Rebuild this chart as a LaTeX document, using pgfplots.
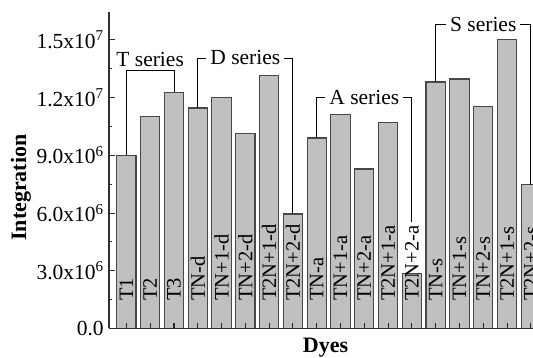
\documentclass[border=0pt]{standalone}
\usepackage{fontspec}
\setmainfont{Liberation Serif}
\usepackage{pgfplots}
\usepackage{pgfplotstable}
\pgfplotsset{compat=1.18}
\definecolor{barfill}{HTML}{C0C0C0}
\definecolor{baredge}{HTML}{484848}
\definecolor{axcol}{HTML}{303030}
\pgfplotstableread{
x y ly lab
0 9.00e6 1.43e6 T1
1 11.02e6 1.43e6 T2
2 12.27e6 1.43e6 T3
3 11.46e6 1.43e6 TN-d
4 12.01e6 1.43e6 TN+1-d
5 10.14e6 1.43e6 TN+2-d
6 13.15e6 1.43e6 T2N+1-d
7 5.95e6 1.43e6 T2N+2-d
8 9.90e6 1.43e6 TN-a
9 11.11e6 1.43e6 TN+1-a
10 8.29e6 1.43e6 TN+2-a
11 10.71e6 1.43e6 T2N+1-a
12 2.86e6 1.43e6 T2N+2-a
13 12.81e6 1.43e6 TN-s
14 12.97e6 1.43e6 TN+1-s
15 11.54e6 1.43e6 TN+2-s
16 15.01e6 1.43e6 T2N+1-s
17 7.47e6 1.43e6 T2N+2-s
}\data
\newcommand{\tfont}{\fontsize{21.5}{24}\selectfont}
\newcommand{\bfont}{\fontsize{20.5}{23}\selectfont}
\begin{document}
\begin{tikzpicture}
\begin{axis}[
  set layers=axis on top,
  scale only axis,
  width=424pt, height=316.5pt,
  xmin=-0.73, xmax=17.09,
  ymin=0, ymax=1.645e7,
  axis x line*=bottom,
  axis y line*=left,
  axis line style={draw=axcol, line width=1.3pt},
  tick align=inside,
  major tick length=5.5pt,
  minor tick length=3pt,
  tick style={draw=axcol, line width=1pt},
  xtick={0,1,2,3,4,5,6,7,8,9,10,11,12,13,14,15,16,17},
  xticklabel=\empty,
  x tick style={draw=black!85, line width=1.1pt},
  ytick={0,3e6,6e6,9e6,1.2e7,1.5e7},
  minor y tick num=1,
  scaled y ticks=false,
  yticklabels={0.0,3.0x10\textsuperscript{6},6.0x10\textsuperscript{6},9.0x10\textsuperscript{6},1.2x10\textsuperscript{7},1.5x10\textsuperscript{7}},
  yticklabel style={font=\tfont, xshift=-1.8pt},
  ylabel={\textbf{Integration}},
  xlabel={\textbf{Dyes}},
  ylabel style={font=\fontsize{22}{24}\selectfont, at={(axis description cs:-0.2075,0.4455)}, anchor=center, rotate=0},
  xlabel style={font=\fontsize{22}{24}\selectfont, at={(axis description cs:0.5106,0)}, anchor=base, yshift=-24.5pt},
]
\addplot[ybar, bar width=0.81, fill=barfill, draw=baredge, line width=1.1pt] table[x=x, y=y] {\data};
\addplot[draw=none, mark=none, nodes near coords, point meta=explicit symbolic,
  nodes near coords style={rotate=90, anchor=west, inner sep=0pt, font=\bfont, text=black}]
  table[x=x, y=ly, meta=lab] {\data};
% T series
\draw[black, line width=0.9pt] (axis cs:0,9.0e6) -- (axis cs:0,13.39e6) -- (axis cs:2,13.39e6) -- (axis cs:2,12.27e6);
\node[font=\tfont, anchor=base, inner sep=0pt] at (axis cs:1,13.62e6) {T series};
% D series
\draw[black, line width=0.9pt] (axis cs:3,11.46e6) |- (axis cs:5,14.06e6) node[fill=white, inner xsep=4pt, inner ysep=1pt, font=\tfont] {D series} -| (axis cs:7,5.95e6);
% A series
\draw[black, line width=0.9pt] (axis cs:8,9.90e6) |- (axis cs:10,12.0e6) node[fill=white, inner xsep=4pt, inner ysep=1pt, font=\tfont] {A series} -| (axis cs:12,5.54e6);
% S series
\draw[black, line width=0.9pt] (axis cs:13,12.81e6) |- (axis cs:15,15.81e6) node[fill=white, inner xsep=4pt, inner ysep=1pt, font=\tfont] {S series} -| (axis cs:17,7.47e6);
\end{axis}
\pgfresetboundingbox
\useasboundingbox (-109pt,-29.5pt) rectangle (424pt,328.5pt);
\end{tikzpicture}
\end{document}
